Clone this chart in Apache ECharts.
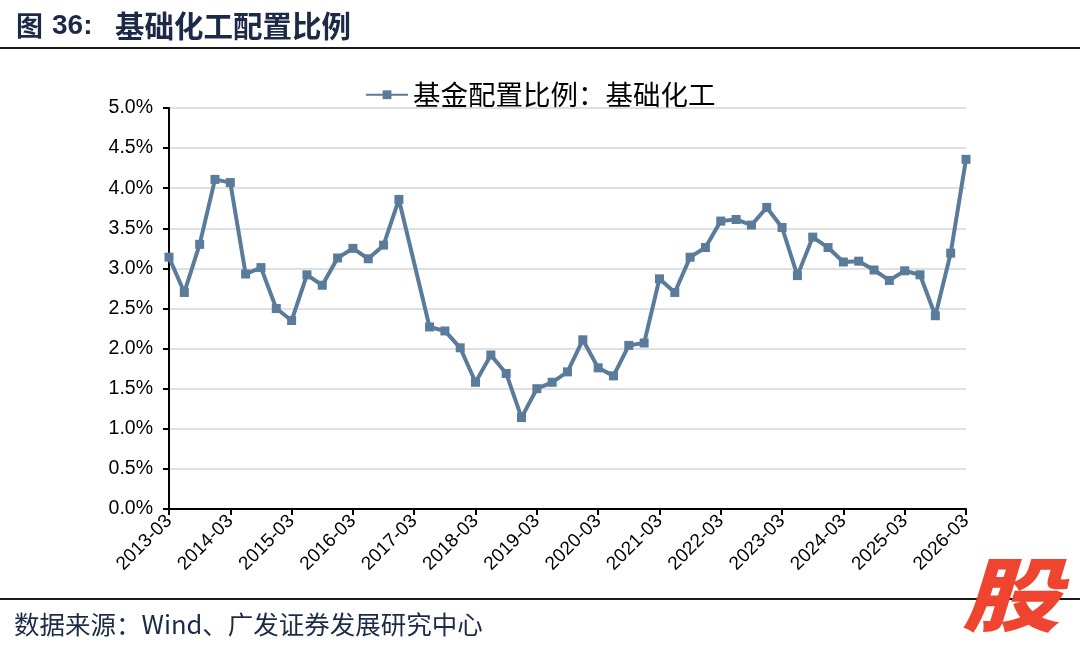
<!DOCTYPE html>
<html>
<head>
<meta charset="utf-8">
<script src="https://cdn.jsdelivr.net/npm/echarts@6/dist/echarts.min.js"></script>
<style>
html,body{margin:0;padding:0;background:#fff;}
#chart{width:1080px;height:650px;}
</style>
</head>
<body>
<div id="chart"></div>
<script>
// Quarter-end dates (2017-03 missing in the source)
const categories = [
  '2013-03','2013-06','2013-09','2013-12',
  '2014-03','2014-06','2014-09','2014-12',
  '2015-03','2015-06','2015-09','2015-12',
  '2016-03','2016-06','2016-09','2016-12',
  '2017-03','2017-06','2017-09','2017-12',
  '2018-03','2018-06','2018-09','2018-12',
  '2019-03','2019-06','2019-09','2019-12',
  '2020-03','2020-06','2020-09','2020-12',
  '2021-03','2021-06','2021-09','2021-12',
  '2022-03','2022-06','2022-09','2022-12',
  '2023-03','2023-06','2023-09','2023-12',
  '2024-03','2024-06','2024-09','2024-12',
  '2025-03','2025-06','2025-09','2025-12',
  '2026-03'
];
// 基金配置比例：基础化工 (%)
const allocation = [
  3.14, 2.70, 3.30, 4.11,
  4.07, 2.93, 3.01, 2.50,
  2.35, 2.92, 2.79, 3.13,
  3.25, 3.12, 3.29, 3.86,
  null, 2.27, 2.22, 2.01,
  1.58, 1.92, 1.69, 1.14,
  1.50, 1.58, 1.71, 2.11,
  1.76, 1.66, 2.04, 2.07,
  2.87, 2.70, 3.14, 3.26,
  3.59, 3.61, 3.54, 3.76,
  3.51, 2.91, 3.39, 3.26,
  3.08, 3.09, 2.98, 2.85,
  2.97, 2.92, 2.41, 3.19,
  4.36
];
const yTicks = { min: 0, max: 5, interval: 0.5 };
const seriesName = '基金配置比例：基础化工';
const titleText = ['图', '36:', '基础化工配置比例'];
const sourceText = '数据来源：Wind、广发证券发展研究中心';

const chart = echarts.init(document.getElementById('chart'), null, { renderer: 'canvas' });
const navy = '#1c2a47';
const lineColor = '#5a7b99';
const cjk = '"Noto Sans CJK SC", sans-serif';
const latin = '"Liberation Sans", Arial, sans-serif';

const option = {
  backgroundColor: '#fff',
  animation: false,
  legend: {
    data: [seriesName],
    left: 360,
    top: 76,
    itemWidth: 42,
    itemHeight: 11,
    textStyle: { fontSize: 27.5, fontFamily: cjk, color: '#000' }
  },
  grid: { left: 169, right: 114, top: 108, bottom: 141, containLabel: false },
  xAxis: {
    type: 'category',
    data: categories,
    boundaryGap: false,
    axisLine: { show: true, lineStyle: { color: '#000', width: 2 } },
    axisTick: {
      show: true, length: 6, alignWithLabel: true,
      interval: (i) => i % 4 === 0,
      lineStyle: { color: '#000', width: 2 }
    },
    axisLabel: {
      interval: (i) => i % 4 === 0,
      rotate: 45,
      margin: 9,
      fontSize: 19,
      fontFamily: latin,
      color: '#000'
    },
    splitLine: { show: false }
  },
  yAxis: {
    type: 'value',
    min: yTicks.min,
    max: yTicks.max,
    interval: yTicks.interval,
    axisLine: { show: true, lineStyle: { color: '#000', width: 2 } },
    axisTick: { show: true, length: 6, lineStyle: { color: '#000', width: 2 } },
    axisLabel: {
      formatter: (v) => v.toFixed(1) + '%',
      fontSize: 19.5,
      fontFamily: latin,
      color: '#000',
      margin: 16
    },
    splitLine: { show: true, lineStyle: { color: '#d6d6d6', width: 1.5 } }
  },
  series: [{
    name: seriesName,
    type: 'line',
    data: allocation,
    connectNulls: true,
    symbol: 'rect',
    symbolSize: 9,
    showAllSymbol: true,
    itemStyle: { color: lineColor },
    lineStyle: { color: lineColor, width: 4 }
  }],
  graphic: [
    { type: 'text', x: 16, y: 26, style: { text: titleText[0], font: 'bold 27px ' + cjk, fill: navy, textVerticalAlign: 'middle' } },
    { type: 'text', x: 52, y: 26, style: { text: titleText[1], font: 'bold 28px ' + latin, fill: navy, textVerticalAlign: 'middle' } },
    { type: 'text', x: 115, y: 26, style: { text: titleText[2], font: 'bold 29.5px ' + cjk, fill: navy, textVerticalAlign: 'middle' } },
    { type: 'rect', shape: { x: 0, y: 47, width: 1080, height: 2 }, style: { fill: '#1a1a1a' } },
    { type: 'rect', shape: { x: 0, y: 598, width: 1080, height: 2 }, style: { fill: '#1a1a1a' } },
    { type: 'text', x: 14, y: 624, style: { text: sourceText, font: '25.5px ' + cjk, fill: navy, textVerticalAlign: 'middle' } },
    { type: 'text', x: 962, y: 594, scaleY: 0.82, style: { text: '股', font: 'italic 900 98px ' + cjk, fill: '#ef4430', textVerticalAlign: 'middle' }, z: 100 }
  ]
};
chart.setOption(option);
</script>
</body>
</html>
